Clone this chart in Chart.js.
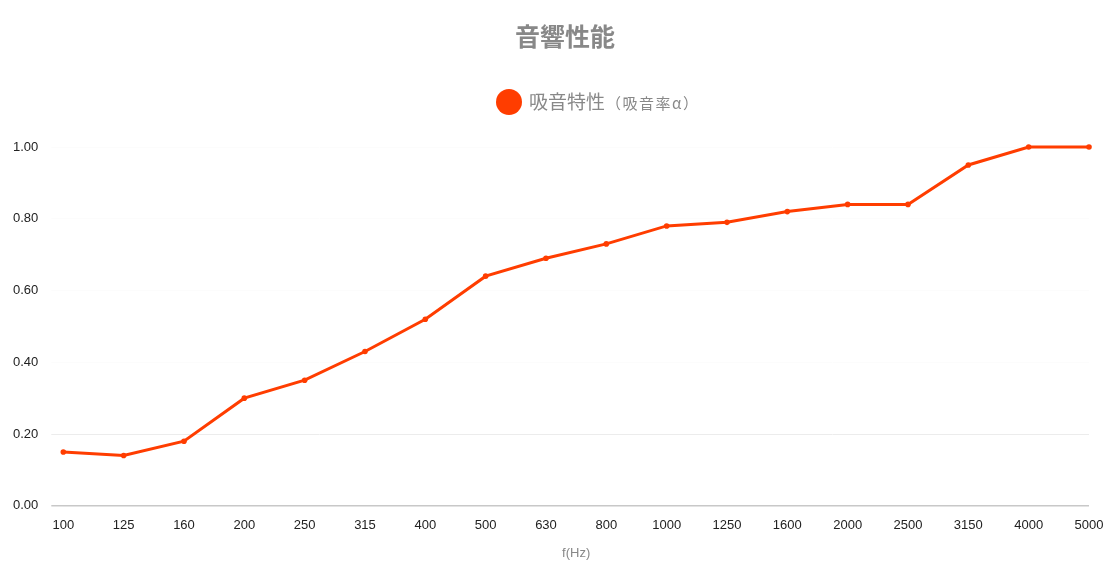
<!DOCTYPE html>
<html>
<head>
<meta charset="utf-8">
<script src="https://cdn.jsdelivr.net/npm/chart.js@4"></script>
<style>
html,body{margin:0;padding:0;background:#fff;}
#wrap{width:1110px;height:583px;position:relative;}
</style>
</head>
<body>
<div id="wrap"><canvas id="c" width="1110" height="583"></canvas></div>
<script>
const categories = ['100','125','160','200','250','315','400','500','630','800','1000','1250','1600','2000','2500','3150','4000','5000'];
const absorption = [0.15,0.14,0.18,0.30,0.35,0.43,0.52,0.64,0.69,0.73,0.78,0.79,0.82,0.84,0.84,0.95,1.00,1.00];
const yTicks = [0, 0.2, 0.4, 0.6, 0.8, 1.0];
const chartTitle = '音響性能';
const seriesName = '吸音特性';
const seriesNote = '（吸音率α）';
const xTitle = 'f(Hz)';

const LINE = '#ff3d00';
const CJK = '"Noto Sans CJK JP","Noto Sans",sans-serif';

const headerPlugin = {
  id: 'header',
  afterDraw(chart) {
    const ctx = chart.ctx;
    ctx.save();
    ctx.fillStyle = '#888888';
    ctx.textBaseline = 'middle';
    ctx.textAlign = 'center';
    ctx.font = 'bold 25px ' + CJK;
    ctx.fillText(chartTitle, 565, 36);
    // legend
    ctx.beginPath();
    ctx.arc(509, 102, 13, 0, Math.PI * 2);
    ctx.fillStyle = LINE;
    ctx.fill();
    ctx.fillStyle = '#888888';
    ctx.textAlign = 'left';
    ctx.font = '19px ' + CJK;
    ctx.fillText(seriesName, 529, 102);
    const w = ctx.measureText(seriesName).width;
    ctx.font = '15px ' + CJK;
    ctx.letterSpacing = '1.5px';
    ctx.fillText(seriesNote, 529 + w + 1, 103);
    ctx.restore();
  }
};

new Chart(document.getElementById('c'), {
  type: 'line',
  data: {
    labels: categories,
    datasets: [{
      label: seriesName,
      data: absorption,
      borderColor: LINE,
      backgroundColor: LINE,
      borderWidth: 3,
      pointRadius: 2.8,
      pointBackgroundColor: LINE,
      pointBorderWidth: 0,
      tension: 0,
      fill: false,
      clip: false
    }]
  },
  options: {
    responsive: false,
    animation: false,
    layout: { padding: { top: 147, left: 0, right: 21, bottom: 22 } },
    plugins: {
      legend: { display: false },
      title: { display: false },
      tooltip: { enabled: false }
    },
    scales: {
      x: {
        offset: false,
        afterFit(scale) { scale.paddingRight = 0; },
        grid: { display: false, drawTicks: false },
        border: { display: false },
        ticks: {
          color: '#222',
          font: { family: 'Liberation Sans, Arial, sans-serif', size: 13 },
          padding: 12,
          maxRotation: 0,
          autoSkip: false
        },
        title: {
          display: true,
          text: xTitle,
          color: '#888',
          font: { family: 'Liberation Sans, Arial, sans-serif', size: 13 },
          padding: { top: 0, bottom: 0 }
        }
      },
      y: {
        min: 0,
        max: 1,
        afterBuildTicks(scale) { scale.ticks = yTicks.map(v => ({ value: v })); },
        border: { display: false },
        grid: {
          tickLength: 12,
          color(ctx) {
            if (ctx.tick && ctx.tick.value === 0) return '#c8c8c8';
            if (ctx.tick && Math.abs(ctx.tick.value - 0.2) < 1e-9) return '#ececec';
            return 'rgba(0,0,0,0.012)';
          },
          lineWidth(ctx) { return (ctx.tick && ctx.tick.value === 0) ? 1.5 : 1; }
        },
        ticks: {
          color: '#222',
          font: { family: 'Liberation Sans, Arial, sans-serif', size: 13 },
          padding: 13,
          callback(v) { return Number(v).toFixed(2); }
        }
      }
    }
  },
  plugins: [headerPlugin]
});
</script>
</body>
</html>
